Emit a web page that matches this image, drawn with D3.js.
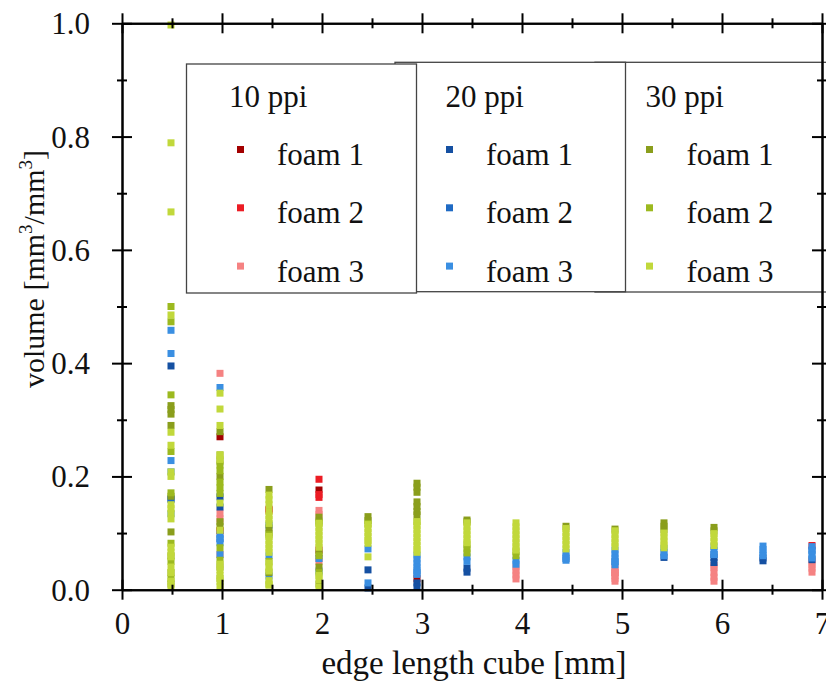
<!DOCTYPE html>
<html>
<head>
<meta charset="utf-8">
<script src="https://cdn.jsdelivr.net/npm/d3@7"></script>
<style>
  html, body { margin: 0; padding: 0; background: #fff; }
  svg { display: block; }
  text { font-family: "Liberation Serif", "DejaVu Serif", "Times New Roman", Times, serif; fill: #111; }
</style>
</head>
<body>
<svg id="chart" width="826" height="686"></svg>
<script>
// ---------- data ----------
const edgeLengths = [0.49, 0.98, 1.47, 1.97, 2.46, 2.95, 3.45, 3.94, 4.44, 4.93, 5.42, 5.92, 6.41, 6.90];
const groups = ["10 ppi", "20 ppi", "30 ppi"];
const foams = ["foam 1", "foam 2", "foam 3"];
const xTicks = [0, 1, 2, 3, 4, 5, 6, 7];
const yTicks = [0, 0.2, 0.4, 0.6, 0.8, 1.0];

// values per column (index matches edgeLengths)
const ppi10foam1 = [[], [0.27, 0.104], [0.142], [0.176, 0.07], [], [0.019], [], [], [], [], [], [], [], []];
const ppi10foam2 = [[], [0.104], [0.14], [0.195, 0.168, 0.163], [], [], [], [], [], [0.03], [], [], [], [0.078]];
const ppi10foam3 = [[], [0.382, 0.135, 0.125, 0.062], [], [0.14, 0.133, 0.055, 0.05], [], [], [],
  [0.04, 0.033, 0.026, 0.019], [], [0.04, 0.035, 0.025, 0.02, 0.015], [],
  [0.043, 0.039, 0.03, 0.022, 0.015], [], [0.05, 0.044, 0.038, 0.031]];
const ppi20foam1 = [[0.395, 0.16], [0.164, 0.146], [], [], [0.035, 0.003], [0.012, 0.005], [0.038, 0.031],
  [], [], [], [0.057], [0.057, 0.048], [0.056, 0.051], [0.053]];
const ppi20foam2 = [[0.16], [0.09], [0.114], [], [], [0.03], [], [], [0.055], [0.05], [], [0.062], [], [0.07]];
const ppi20foam3 = [[0.458, 0.417, 0.228, 0.208, 0.134], [0.357, 0.098, 0.09, 0.083, 0.062], [0.06, 0.024],
  [0.055, 0.033], [0.072, 0.012], [0.061, 0.054, 0.047, 0.04, 0.034, 0.027], [0.058, 0.05], [0.052, 0.045],
  [0.066, 0.058, 0.052], [0.07, 0.063, 0.056, 0.049, 0.044], [0.073, 0.066, 0.06], [0.076, 0.069, 0.062],
  [0.077, 0.071, 0.065, 0.06], [0.076, 0.069, 0.062, 0.056]];
const ppi30foam1 = [[0.325, 0.318, 0.31, 0.29, 0.165, 0.102, 0.06, 0.03, 0.01],
  [0.279, 0.227, 0.2, 0.12, 0.112, 0.04], [0.177, 0.109, 0.1, 0.03], [0.128, 0.121, 0.065, 0.04, 0.01],
  [0.129, 0.122], [0.188, 0.181, 0.172, 0.155, 0.147, 0.138, 0.132], [0.123, 0.12], [], [0.112], [0.107],
  [0.118, 0.112, 0.106], [0.11, 0.104], [], []];
const ppi30foam2 = [[0.5, 0.473, 0.344, 0.244, 0.171, 0.082, 0.05, 0.02],
  [0.238, 0.22, 0.21, 0.19, 0.18, 0.17, 0.074, 0.052, 0.02], [0.097, 0.05, 0.01], [0.118, 0.06, 0.03],
  [0.117], [0.12], [0.079, 0.072, 0.065], [0.067, 0.06], [], [], [], [], [], []];
const ppi30foam3 = [
  [0.997, 0.789, 0.667, 0.485, 0.278, 0.255, 0.208, 0.2, 0.15, 0.143, 0.135, 0.125, 0.075, 0.066, 0.058, 0.04, 0.03, 0.015, 0.005],
  [0.347, 0.319, 0.29, 0.238, 0.23, 0.153, 0.105, 0.045, 0.035, 0.025, 0.015, 0.005],
  [0.167, 0.159, 0.15, 0.138, 0.131, 0.124, 0.117, 0.094, 0.087, 0.08, 0.073, 0.066, 0.047, 0.04, 0.033, 0.016, 0.008],
  [0.117, 0.11, 0.103, 0.096, 0.089, 0.082, 0.075, 0.025, 0.018, 0.005],
  [0.115, 0.108, 0.101, 0.094, 0.087, 0.082, 0.058],
  [0.12, 0.113, 0.106, 0.099, 0.092, 0.085, 0.078, 0.071, 0.066],
  [0.118, 0.111, 0.104, 0.097, 0.09, 0.083],
  [0.118, 0.111, 0.104, 0.097, 0.09, 0.083, 0.076, 0.07],
  [0.108, 0.101, 0.094, 0.087, 0.08, 0.072],
  [0.104, 0.097, 0.09, 0.083, 0.076],
  [0.1, 0.093, 0.086, 0.079, 0.074],
  [0.099, 0.092, 0.085, 0.078],
  [], []];

const seriesValues = [ppi10foam1, ppi10foam2, ppi10foam3, ppi20foam1, ppi20foam2, ppi20foam3, ppi30foam1, ppi30foam2, ppi30foam3];
const seriesColors = ["#a30000", "#ec1c24", "#f58282", "#1550a2", "#1f6ac4", "#3a8fe2", "#8a9e1c", "#9cb91f", "#c1d83b"];

// ---------- layout ----------
const FONT = '"Liberation Serif", "DejaVu Serif", "Times New Roman", Times, serif';
const FS = 31;
const svg = d3.select("#chart");
const x = d3.scaleLinear().domain([0, 7]).range([122, 822]);
const y = d3.scaleLinear().domain([0, 1]).range([589.7, 23.3]);
const M = 7; // marker size

// points
const pts = [];
seriesValues.forEach((s, si) => s.forEach((col, ci) => col.forEach(v => pts.push({si, x: edgeLengths[ci], v}))));
svg.append("g").selectAll("rect").data(pts).join("rect")
  .attr("x", d => x(d.x) - M / 2).attr("y", d => y(d.v) - M / 2)
  .attr("width", M).attr("height", M)
  .attr("fill", d => seriesColors[d.si]);

// legend boxes (drawn back to front: 30, 20, 10)
const boxes = [
  {g: 0, x0: 186.5, x1: 416.5, y0: 64, y1: 293, tx: 229, mx: 240.5, lx: 277},
  {g: 1, x0: 395, x1: 625.5, y0: 62.3, y1: 291.7, tx: 445.5, mx: 449.5, lx: 486},
  {g: 2, x0: 595, x1: 850, y0: 62.3, y1: 292, tx: 645.5, mx: 649.5, lx: 686.5}
];
const legend = svg.append("g");
boxes.slice().reverse().forEach(b => {
  const gg = legend.append("g");
  gg.append("rect").attr("x", b.x0).attr("y", b.y0).attr("width", b.x1 - b.x0).attr("height", b.y1 - b.y0)
    .attr("fill", "#fff").attr("stroke", "#444").attr("stroke-width", 1.3);
  gg.append("text").attr("x", b.tx).attr("y", 107).attr("font-family", FONT).attr("font-size", FS).text(groups[b.g]);
  foams.forEach((f, i) => {
    gg.append("rect").attr("x", b.mx - M / 2).attr("y", 149.5 + i * 58.3 - M / 2).attr("width", M).attr("height", M)
      .attr("fill", seriesColors[b.g * 3 + i]);
    gg.append("text").attr("x", b.lx).attr("y", 165 + i * 58.3).attr("font-family", FONT).attr("font-size", FS).text(f);
  });
});

// axes
function crossTicks(g, len) {
  g.selectAll(".tick line").each(function() {
    const l = d3.select(this);
    if (l.attr("y2") !== null && +l.attr("y2") !== 0) l.attr("y1", -len).attr("y2", len);
    else l.attr("x1", -len).attr("x2", len);
  });
}
function styleAxis(g) {
  g.attr("font-family", FONT).attr("font-size", FS);
  g.select(".domain").attr("stroke", "#000").attr("stroke-width", 2);
  g.selectAll(".tick line").attr("stroke", "#000").attr("stroke-width", 2);
  g.selectAll("text").attr("fill", "#111");
}
const xMinor = d3.range(0.5, 7, 1);
const yMinor = d3.range(0.1, 1, 0.2);

const axes = svg.append("g");
// bottom
const gb = axes.append("g").attr("transform", `translate(0,${y(0)})`)
  .call(d3.axisBottom(x).tickValues(xTicks).tickSize(10).tickSizeOuter(0).tickPadding(12).tickFormat(d3.format("d")));
crossTicks(gb, 10); styleAxis(gb);
const gbm = axes.append("g").attr("transform", `translate(0,${y(0)})`)
  .call(d3.axisBottom(x).tickValues(xMinor).tickSize(5).tickSizeOuter(0).tickFormat(""));
crossTicks(gbm, 5); styleAxis(gbm);
// top
const gt = axes.append("g").attr("transform", `translate(0,${y(1)})`)
  .call(d3.axisTop(x).tickValues(xTicks).tickSize(10).tickSizeOuter(0).tickFormat(""));
crossTicks(gt, 10); styleAxis(gt);
const gtm = axes.append("g").attr("transform", `translate(0,${y(1)})`)
  .call(d3.axisTop(x).tickValues(xMinor).tickSize(5).tickSizeOuter(0).tickFormat(""));
crossTicks(gtm, 5); styleAxis(gtm);
// left
const gl = axes.append("g").attr("transform", `translate(${x(0)},0)`)
  .call(d3.axisLeft(y).tickValues(yTicks).tickSize(10).tickSizeOuter(0).tickPadding(22).tickFormat(d3.format(".1f")));
crossTicks(gl, 10); styleAxis(gl);
gl.selectAll("text").attr("dy", "0.34em");
const glm = axes.append("g").attr("transform", `translate(${x(0)},0)`)
  .call(d3.axisLeft(y).tickValues(yMinor).tickSize(5).tickSizeOuter(0).tickFormat(""));
crossTicks(glm, 5); styleAxis(glm);
// right
const gr = axes.append("g").attr("transform", `translate(${x(7)},0)`)
  .call(d3.axisRight(y).tickValues(yTicks).tickSize(10).tickSizeOuter(0).tickFormat(""));
crossTicks(gr, 10); styleAxis(gr);
const grm = axes.append("g").attr("transform", `translate(${x(7)},0)`)
  .call(d3.axisRight(y).tickValues(yMinor).tickSize(5).tickSizeOuter(0).tickFormat(""));
crossTicks(grm, 5); styleAxis(grm);

// axis titles
svg.append("text").attr("x", 474).attr("y", 674).attr("text-anchor", "middle")
  .attr("font-family", FONT).attr("font-size", 33).text("edge length cube [mm]");
const yt = svg.append("text").attr("transform", "translate(44,269) rotate(-90)")
  .attr("text-anchor", "middle").attr("font-family", FONT).attr("font-size", 30);
yt.append("tspan").text("volume [mm");
yt.append("tspan").attr("font-size", 19).attr("dy", -12).text("3");
yt.append("tspan").attr("dy", 12).text("/mm");
yt.append("tspan").attr("font-size", 19).attr("dy", -12).text("3");
yt.append("tspan").attr("dy", 12).text("]");
</script>
</body>
</html>
